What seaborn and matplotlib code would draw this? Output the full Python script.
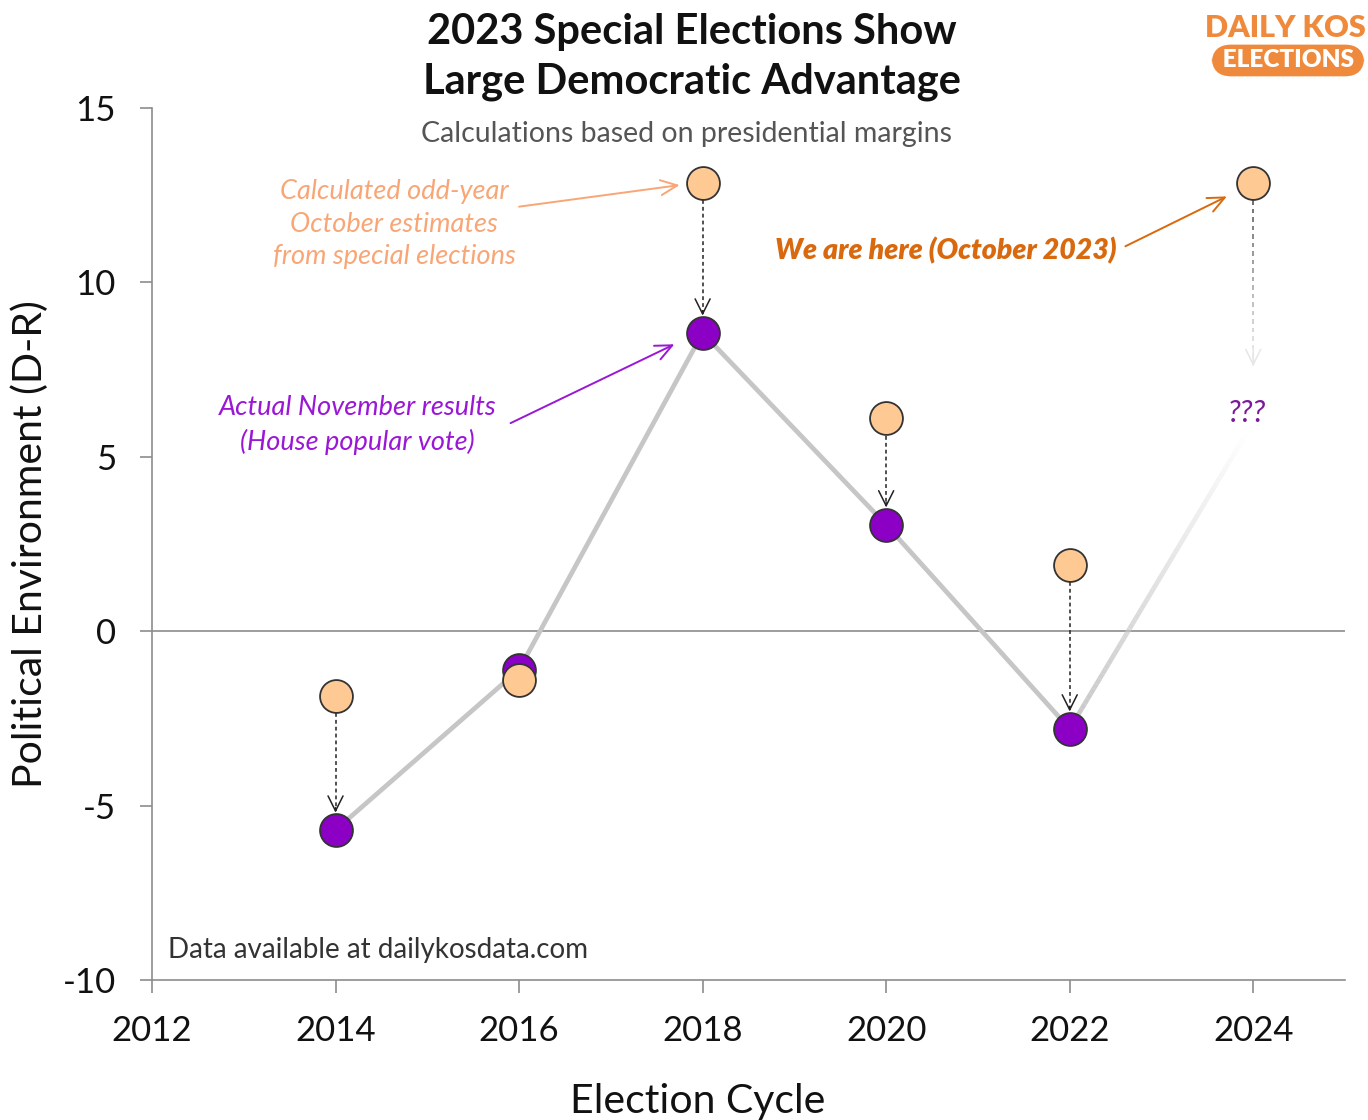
import numpy as np
import matplotlib
matplotlib.use("Agg")
import matplotlib.pyplot as plt
import seaborn as sns
import pandas as pd
from matplotlib.collections import LineCollection

# valores
years = [2014, 2016, 2018, 2020, 2022]
actual = [-5.7, -1.1, 8.55, 3.05, -2.8]
est_years = [2014, 2016, 2018, 2020, 2022, 2024]
estimates = [-1.85, -1.4, 12.85, 6.1, 1.9, 12.85]
arrow_years = [2014, 2018, 2020, 2022]
proj_year = 2024
proj_value = 6.0
proj_arrow_end = 7.6
xticks = [2012, 2014, 2016, 2018, 2020, 2022, 2024]
yticks = [-10, -5, 0, 5, 10, 15]

ORANGE_PT = "#ffc994"
PURPLE_PT = "#8c00c6"
LINE_GRAY = "#c6c6c6"
AXIS_GRAY = "#8c8c8c"

sns.set_theme(style="white")
plt.rcParams["font.family"] = ["Lato", "DejaVu Sans"]
plt.rcParams["axes.unicode_minus"] = False

fig = plt.figure(figsize=(13.68, 11.2), dpi=100)
ax = fig.add_axes([0.1111, 0.125, 0.8721, 0.7786])

df_act = pd.DataFrame({"year": years, "value": actual})
df_est = pd.DataFrame({"year": est_years, "value": estimates})

# linea gris de resultados
sns.lineplot(data=df_act, x="year", y="value", color=LINE_GRAY, lw=3.4, ax=ax, zorder=2)

# tramo que se desvanece hacia 2024
x0, y0 = years[-1], actual[-1]
t = np.linspace(0, 1, 60)
xs = x0 + (proj_year - x0) * t * 0.96
ys = y0 + (proj_value - y0) * t * 0.96
segs = [[(xs[i], ys[i]), (xs[i + 1], ys[i + 1])] for i in range(len(t) - 1)]
cols = [(0.78, 0.78, 0.78, 1 - v) for v in t[:-1]]
ax.add_collection(LineCollection(segs, colors=cols, linewidths=3.4, zorder=2, capstyle="butt"))

# flechas punteadas de estimacion -> resultado
r = 0.5
for yr in arrow_years:
    e = estimates[est_years.index(yr)]
    a = actual[years.index(yr)]
    ax.plot([yr, yr], [e - r, a + r + 0.05], color="#222222", lw=1.1,
            ls=(0, (2.5, 2)), zorder=3)
    ax.annotate("", xy=(yr, a), xytext=(0, 16), textcoords="offset points",
                arrowprops=dict(arrowstyle="->,head_length=0.9,head_width=0.45",
                                color="#222222", lw=1.1, shrinkA=0, shrinkB=12.5),
                zorder=3)

# flecha de 2024 que se desvanece
e24 = estimates[est_years.index(proj_year)]
t2 = np.linspace(0, 1, 40)
ys2 = (e24 - r) + (proj_arrow_end - (e24 - r)) * t2
segs2 = [[(proj_year, ys2[i]), (proj_year, ys2[i + 1])] for i in range(0, len(t2) - 1, 2)]
cols2 = [(0.2, 0.2, 0.2, 0.85 * (1 - v) + 0.05) for v in t2[:-1:2]]
ax.add_collection(LineCollection(segs2, colors=cols2, linewidths=1.1, zorder=3))
ax.annotate("", xy=(proj_year, proj_arrow_end), xytext=(0, 14), textcoords="offset points",
            arrowprops=dict(arrowstyle="->,head_length=0.9,head_width=0.45",
                            color="#e6e6e6", lw=1.1, shrinkA=0, shrinkB=0), zorder=3)

# puntos
sns.scatterplot(data=df_act, x="year", y="value", s=560, color=PURPLE_PT,
                edgecolor="#333333", linewidth=1.3, ax=ax, zorder=4)
sns.scatterplot(data=df_est, x="year", y="value", s=560, color=ORANGE_PT,
                edgecolor="#333333", linewidth=1.3, ax=ax, zorder=5)

ax.axhline(0, color=AXIS_GRAY, lw=1.2, zorder=1)

ax.set_xlim(2012, 2025)
ax.set_ylim(-10, 15)
ax.set_xticks(xticks)
ax.set_yticks(yticks)
ax.set_xticklabels([str(v) for v in xticks])
ax.set_yticklabels([str(v) for v in yticks])
for s in ["top", "right"]:
    ax.spines[s].set_visible(False)
for s in ["left", "bottom"]:
    ax.spines[s].set_color(AXIS_GRAY)
    ax.spines[s].set_linewidth(1.2)
ax.tick_params(axis="both", length=9, width=1.2, color=AXIS_GRAY, labelsize=25,
               labelcolor="#111111", direction="out", left=True, bottom=True)
ax.tick_params(axis="x", pad=16)
ax.tick_params(axis="y", pad=17)
ax.set_xlabel("Election Cycle", fontsize=29.5, color="#111111")
ax.xaxis.set_label_coords((698 - 152) / 1193, -0.118)
ax.set_ylabel("Political Environment (D-R)", fontsize=29.5, color="#111111")
ax.yaxis.set_label_coords(-(152 - 49) / 1193, 0.5)

# anotaciones
ax.text(2014.64, 11.67, "Calculated odd-year\nOctober estimates\nfrom special elections",
        ha="center", va="center", fontsize=19.5, style="italic", color="#f9a676",
        linespacing=1.38)
ax.annotate("", xy=(2017.78, 12.8), xytext=(2015.97, 12.16),
            arrowprops=dict(arrowstyle="->,head_length=1.0,head_width=0.45",
                            color="#f9a676", lw=1.4))
ax.text(2014.24, 5.9, "Actual November results\n(House popular vote)",
        ha="center", va="center", fontsize=19.5, style="italic", color="#9b17d6",
        linespacing=1.42)
ax.annotate("", xy=(2017.72, 8.26), xytext=(2015.88, 5.93),
            arrowprops=dict(arrowstyle="->,head_length=1.0,head_width=0.45",
                            color="#9b17d6", lw=1.4))
ax.text(2020.65, 10.92, "We are here (October 2023)", ha="center", va="center",
        fontsize=20.5, style="italic", weight="heavy", color="#d8690e")
ax.annotate("", xy=(2023.74, 12.5), xytext=(2022.58, 11.0),
            arrowprops=dict(arrowstyle="->,head_length=1.0,head_width=0.45",
                            color="#d8690e", lw=1.4))
ax.text(2023.93, 6.25, "???", ha="center", va="center", fontsize=22,
        style="italic", color="#7a1a9a")
ax.text(2012.17, -9.15, "Data available at dailykosdata.com", ha="left", va="center",
        fontsize=20, color="#333333")

# titulo
fig.text(0.506, 0.988, "2023 Special Elections Show\nLarge Democratic Advantage",
         ha="center", va="top", fontsize=30, weight="bold", color="#111111",
         linespacing=1.36)
fig.text(0.502, 0.880, "Calculations based on presidential margins", ha="center",
         va="center", fontsize=20.5, color="#555555")

# logo
fig.text(0.9985, 0.975, "DAILY KOS", ha="right", va="center", fontsize=22,
         weight="heavy", color="#ef8a3c")
fig.text(0.9415, 0.946, " ELECTIONS ", ha="center", va="center", fontsize=17.5,
         weight="heavy", color="white",
         bbox=dict(boxstyle="round,pad=0.2,rounding_size=0.8", fc="#ef8a3c", ec="none"))

fig.savefig("out.png", dpi=100)
